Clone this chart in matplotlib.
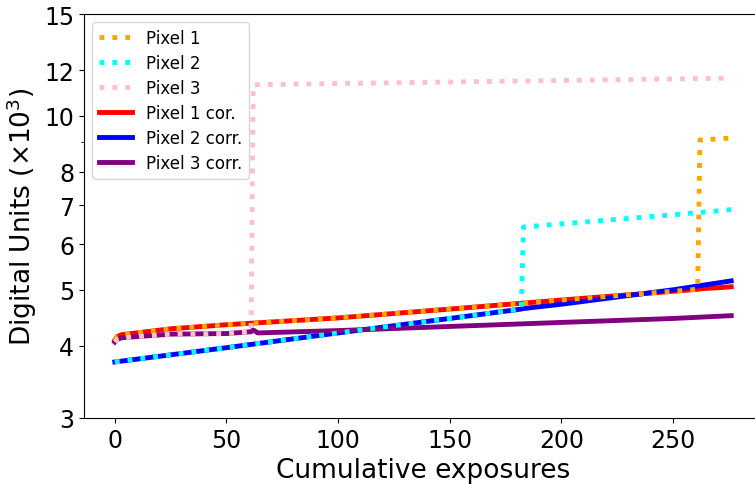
import matplotlib.pyplot as plt
from matplotlib.ticker import NullFormatter

# exposure index and signal (thousands of DN) for each pixel
x_p1 = [0, 1, 3, 25, 50, 100, 150, 200, 250, 261, 262, 270, 276]
pix1_raw = [4.09, 4.15, 4.18, 4.28, 4.35, 4.47, 4.63, 4.80, 4.97, 5.01, 9.08, 9.12, 9.15]
pix1_cor = [4.09, 4.15, 4.18, 4.28, 4.35, 4.47, 4.63, 4.80, 4.97, 5.01, 5.02, 5.04, 5.06]

x_p2 = [0, 50, 100, 150, 182, 183, 200, 250, 276]
pix2_raw = [3.75, 3.97, 4.21, 4.46, 4.63, 6.42, 6.50, 6.74, 6.88]
pix2_cor = [3.75, 3.97, 4.21, 4.46, 4.63, 4.64, 4.72, 5.00, 5.18]

x_p3 = [0, 1, 3, 25, 50, 61, 62, 64, 100, 150, 200, 250, 276]
pix3_raw = [4.06, 4.10, 4.13, 4.19, 4.20, 4.23, 11.31, 11.32, 11.37, 11.44, 11.51, 11.58, 11.62]
pix3_cor = [4.06, 4.10, 4.13, 4.19, 4.20, 4.23, 4.26, 4.21, 4.25, 4.32, 4.39, 4.46, 4.51]

yticks = [3, 4, 5, 6, 7, 8, 10, 12, 15]

fig = plt.figure(figsize=(7.55, 4.85), dpi=100)
ax = fig.add_axes([84 / 755, 66 / 485, 678 / 755, 404 / 485])

lw = 3.5
ax.plot(x_p1, pix1_raw, ':', color='orange', lw=lw, zorder=3, label='Pixel 1')
ax.plot(x_p2, pix2_raw, ':', color='cyan', lw=lw, zorder=3, label='Pixel 2')
ax.plot(x_p3, pix3_raw, ':', color='pink', lw=lw, zorder=3, label='Pixel 3')
ax.plot(x_p1, pix1_cor, '-', color='red', lw=lw, zorder=2, label='Pixel 1 cor.')
ax.plot(x_p2, pix2_cor, '-', color='blue', lw=lw, zorder=2, label='Pixel 2 corr.')
ax.plot(x_p3, pix3_cor, '-', color='purple', lw=lw, zorder=2, label='Pixel 3 corr.')

ax.set_yscale('log')
ax.set_ylim(3, 15)
ax.set_yticks(yticks, [str(t) for t in yticks])
ax.yaxis.set_minor_formatter(NullFormatter())
ax.tick_params(labelsize=17)

ax.set_xlabel('Cumulative exposures', fontsize=19)
ax.set_ylabel(r'Digital Units ($\times10^3$)', fontsize=19)
ax.legend(loc='upper left', fontsize=12, labelspacing=0.42)

fig.savefig('out.png', dpi=100)
